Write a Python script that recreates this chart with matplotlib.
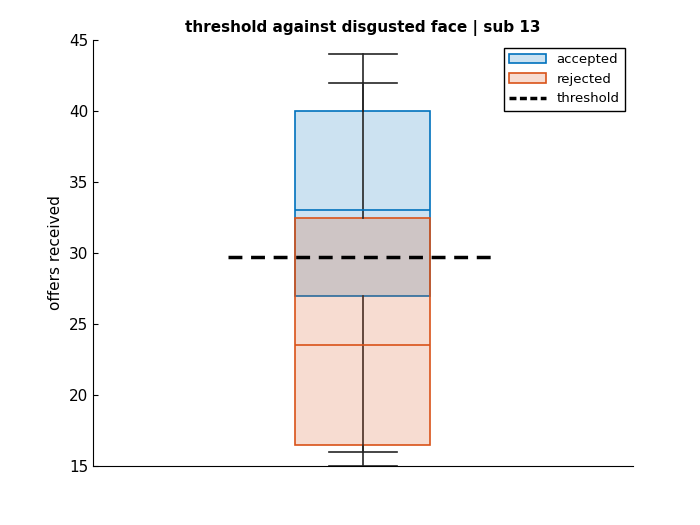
import matplotlib
matplotlib.use("Agg")
import matplotlib.pyplot as plt
from matplotlib.patches import Patch
from matplotlib.lines import Line2D

groups = ["accepted", "rejected"]
q1 = [27, 16.5]
med = [33, 23.5]
q3 = [40, 32.5]
wlo = [16, 15]
whi = [44, 42]
threshold = 29.75
colors = ["#0072BD", "#D95319"]

fig = plt.figure(figsize=(7, 5.25), dpi=100)
ax = fig.add_axes([0.133, 0.112, 0.771, 0.812])
for i in range(2):
    st = [dict(med=med[i], q1=q1[i], q3=q3[i], whislo=wlo[i], whishi=whi[i], fliers=[])]
    ax.bxp(st, positions=[1], widths=0.25, patch_artist=True, showfliers=False,
           boxprops=dict(facecolor=colors[i] + "33", edgecolor=colors[i], linewidth=1.2),
           medianprops=dict(color=colors[i], linewidth=1.2),
           whiskerprops=dict(color="#262626", linewidth=1.2),
           capprops=dict(color="#262626", linewidth=1.2), capwidths=0.125)
ax.plot([0.75, 1.25], [threshold, threshold], "k--", linewidth=2.5, dashes=(4, 2.5))
ax.set_xlim(0.5, 1.5)
ax.set_ylim(15, 45)
ax.set_xticks([])
ax.set_yticks(range(15, 46, 5))
ax.spines["top"].set_visible(False)
ax.spines["right"].set_visible(False)
ax.tick_params(labelsize=11, direction="in")
ax.set_ylabel("offers received", fontsize=11)
ax.set_title("threshold against disgusted face | sub 13", fontsize=11, fontweight="bold")
handles = [Patch(facecolor=colors[0] + "33", edgecolor=colors[0], linewidth=1.2),
           Patch(facecolor=colors[1] + "33", edgecolor=colors[1], linewidth=1.2),
           Line2D([], [], color="k", linestyle="--", linewidth=2.5, dashes=(2, 1))]
ax.legend(handles, ["accepted", "rejected", "threshold"], loc="upper right", fontsize=9.5,
          fancybox=False, edgecolor="k", framealpha=1, borderaxespad=0.6, handlelength=2.8)
fig.savefig("out.png")
